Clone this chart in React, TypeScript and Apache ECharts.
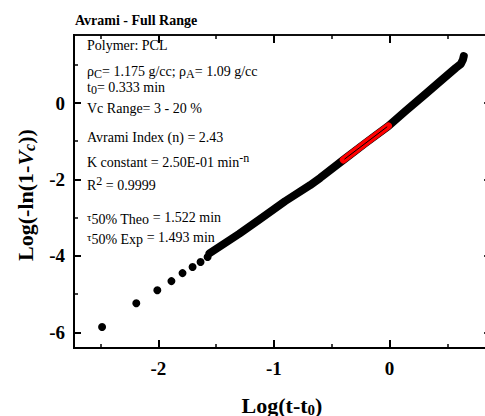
import React, { useEffect, useRef } from "react";
import * as echarts from "echarts";

// Sparse early points (Log(t-t0), Log(-ln(1-Vc)))
const xSparse = [-2.487, -2.191, -2.009, -1.887, -1.791, -1.704, -1.635, -1.574];
const ySparse = [-5.86, -5.24, -4.9, -4.66, -4.45, -4.29, -4.16, -4.03];
// Dense data band (drawn as thick trace)
const xBand = [-1.557, -1.3, -1.122, -0.904, -0.687, -0.6, -0.4, -0.209, -0.009, 0.139, 0.313, 0.443, 0.574, 0.617, 0.635, 0.643];
const yBand = [-3.93, -3.42, -3.04, -2.57, -2.15, -1.96, -1.49, -1.05, -0.6, -0.21, 0.24, 0.58, 0.92, 1.02, 1.13, 1.23];
// Fit range points (Vc 3 - 20 %)
const xRed = [-0.4, -0.209, -0.009];
const yRed = [-1.49, -1.05, -0.6];
// Fit line
const xFit = [-0.39, -0.02];
const yFit = [-1.47, -0.62];

const xMajor = [-2, -1, 0];
const xMinor = [-2.5, -1.5, -0.5, 0.5];
const yMajor = [-6, -4, -2, 0];
const yMinor = [-5, -3, -1, 1];

const X_MIN = -2.73;
const X_MAX = 0.88;
const Y_MIN = -6.41;
const Y_MAX = 1.78;

const SERIF = "'Liberation Serif', 'Times New Roman', serif";

const zip = (xs: number[], ys: number[]) => xs.map((x, i) => [x, ys[i]]);

export default function App() {
  const ref = useRef<HTMLDivElement>(null);
  useEffect(() => {
    if (!ref.current) return;
    const chart = echarts.init(ref.current, undefined, { renderer: "svg" });
    const labelStyle = { color: "#000", fontFamily: SERIF, fontWeight: "bold", fontSize: 19 };
    const mkX = (pos: "top" | "bottom", vals: number[], len: number, labels: boolean, lw: number, tw = 1.5) => ({
      type: "value",
      position: pos,
      min: X_MIN,
      max: X_MAX,
      axisLine: { show: true, onZero: false, lineStyle: { color: "#000", width: lw } },
      axisTick: labels
        ? { show: false }
        : { show: true, inside: true, length: len, customValues: vals, lineStyle: { color: "#000", width: tw } },
      axisLabel: labels ? { show: true, customValues: vals, margin: 11, ...labelStyle } : { show: false },
      splitLine: { show: false },
    });
    const mkY = (pos: "left" | "right", vals: number[], len: number, labels: boolean, lw: number, tw = 1.5) => ({
      type: "value",
      position: pos,
      min: Y_MIN,
      max: Y_MAX,
      axisLine: { show: true, onZero: false, lineStyle: { color: "#000", width: lw } },
      axisTick: labels
        ? { show: false }
        : { show: true, inside: true, length: len, customValues: vals, lineStyle: { color: "#000", width: tw } },
      axisLabel: labels ? { show: true, customValues: vals, margin: 9, ...labelStyle } : { show: false },
      splitLine: { show: false },
    });
    const ann = (y: number, text: string) => ({
      type: "text",
      x: 87,
      y,
      style: {
        text,
        fill: "#000",
        font: `14px ${SERIF}`,
        align: "left",
        verticalAlign: "middle",
        rich: {
          n: { fontSize: 14, fontFamily: SERIF, fill: "#000" },
          s: { fontSize: 12, fontFamily: SERIF, fill: "#000", padding: [5, 0, 0, 0] },
          u: { fontSize: 12, fontFamily: SERIF, fill: "#000", padding: [0, 0, 8, 0] },
          t: { fontSize: 11, fontFamily: SERIF, fill: "#000" },
          d: { fontSize: 14, fontFamily: SERIF, fill: "#000", padding: [4, 0, 0, 0] },
        },
      },
    });
    chart.setOption({
      animation: false,
      backgroundColor: "#fff",
      grid: { left: 74, top: 35, right: -6.2, bottom: 68, containLabel: false, outerBoundsMode: "none" },
      xAxis: [
        mkX("bottom", xMajor, 8, true, 2),
        mkX("bottom", xMajor, 8, false, 2, 2),
        mkX("bottom", xMinor, 4, false, 2),
        mkX("top", xMajor, 8, false, 1.5, 2),
        mkX("top", xMinor, 4, false, 1.5),
      ],
      yAxis: [
        mkY("left", yMajor, 7, true, 2),
        mkY("left", yMajor, 7, false, 2, 2),
        mkY("left", yMinor, 4, false, 2),
        mkY("right", yMajor, 7, false, 1.5, 2),
        mkY("right", yMinor, 4, false, 1.5),
      ],
      series: [
        {
          type: "line",
          data: zip(xBand, yBand),
          showSymbol: false,
          symbol: "none",
          lineStyle: { color: "#000", width: 8, cap: "round", join: "round" },
          z: 2,
        },
        {
          type: "scatter",
          data: zip(xSparse, ySparse),
          symbol: "circle",
          symbolSize: 8,
          itemStyle: { color: "#000", opacity: 1 },
          z: 3,
        },
        {
          type: "line",
          data: zip(xRed, yRed),
          showSymbol: false,
          symbol: "none",
          lineStyle: { color: "#ff0000", width: 7, cap: "round", join: "round" },
          z: 4,
        },
        {
          type: "line",
          data: zip(xFit, yFit),
          showSymbol: false,
          symbol: "none",
          lineStyle: { color: "#000", width: 1 },
          z: 5,
        },
      ],
      graphic: [
        {
          type: "text",
          x: 75,
          y: 20,
          style: { text: "Avrami - Full Range", fill: "#000", font: `bold 14px ${SERIF}`, align: "left", verticalAlign: "middle" },
        },
        ann(45, "{n|Polymer: PCL}"),
        ann(71, "{n|ρ}{s|C}{n|= 1.175 g/cc; ρ}{s|A}{n|= 1.09 g/cc}"),
        ann(87, "{n|t}{s|0}{n|= 0.333 min}"),
        ann(108, "{n|Vc Range= 3 - 20 %}"),
        ann(137, "{n|Avrami Index (n) = 2.43}"),
        ann(162, "{n|K constant = 2.50E-01 min}{u|-n}"),
        ann(185, "{n|R}{u|2}{n| = 0.9999}"),
        ann(217, "{t|τ}{d|50% Theo}{n| = 1.522 min}"),
        ann(237, "{t|τ}{d|50% Exp}{n| = 1.493 min}"),
        {
          type: "text",
          x: 282,
          y: 405,
          style: {
            text: "{a|Log(t-t}{s|0}{a|)}",
            fill: "#000",
            align: "center",
            verticalAlign: "middle",
            rich: {
              a: { fontSize: 22, fontWeight: "bold", fontFamily: SERIF, fill: "#000" },
              s: { fontSize: 15, fontWeight: "bold", fontFamily: SERIF, fill: "#000", padding: [9, 0, 0, 0] },
            },
          },
        },
        {
          type: "text",
          x: 25,
          y: 195,
          rotation: Math.PI / 2,
          style: {
            text: "{a|Log(-ln(1-}{i|V}{s|c}{a|))}",
            fill: "#000",
            align: "center",
            verticalAlign: "middle",
            rich: {
              a: { fontSize: 22, fontWeight: "bold", fontFamily: SERIF, fill: "#000" },
              i: { fontSize: 22, fontWeight: "bold", fontStyle: "italic", fontFamily: SERIF, fill: "#000" },
              s: { fontSize: 16, fontWeight: "bold", fontStyle: "italic", fontFamily: SERIF, fill: "#000", padding: [9, 0, 0, 0] },
            },
          },
        },
      ],
    });
    return () => chart.dispose();
  }, []);
  return (
    <div
      ref={ref}
      style={{ position: "fixed", left: 0, top: 0, width: 485, height: 416, background: "#fff" }}
    />
  );
}
